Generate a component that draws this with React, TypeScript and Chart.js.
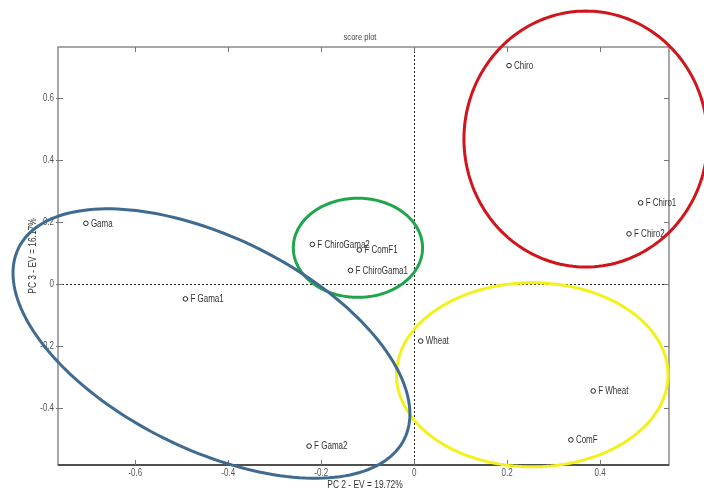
import React, { useEffect, useRef } from "react";
import { Chart, registerables } from "chart.js";

Chart.register(...registerables);

// ---- data ----
const sampleNames = [
  "Chiro", "F Chiro1", "F Chiro2", "Gama", "F Gama1", "F Gama2",
  "F ChiroGama2", "F ComF1", "F ChiroGama1", "Wheat", "F Wheat", "ComF",
];
const pc2Scores = [0.204, 0.487, 0.462, -0.706, -0.492, -0.226, -0.219, -0.118, -0.137, 0.014, 0.385, 0.337];
const pc3Scores = [0.706, 0.263, 0.163, 0.197, -0.047, -0.522, 0.129, 0.111, 0.045, -0.183, -0.344, -0.502];

const xTickValues = [-0.6, -0.4, -0.2, 0, 0.2, 0.4];
const xTickLabels = ["-0.6", "-0.4", "-0.2", "0", "0.2", "0.4"];
const yTickValues = [-0.4, -0.2, 0, 0.2, 0.4, 0.6];
const yTickLabels = ["-0.4", "-0.2", "0", "0.2", "0.4", "0.6"];

const xRange = [-0.766, 0.548];
const yRange = [-0.583, 0.766];

const titleText = "score plot";
const xTitle = "PC 2 - EV = 19.72%";
const yTitle = "PC 3 - EV = 16.17%";

// cluster ellipses: centre (data units) and two conjugate half-axis vectors (data units)
const ellipseColors = ["#d0151c", "#1fa64c", "#f3f01c", "#3f6b91"];
const ellipseCenters = [[0.369, 0.469], [-0.121, 0.118], [0.254, -0.292], [-0.436, -0.191]];
const ellipseAxisU = [[0.262, 0], [0.139, 0], [0.292, 0], [0.4146, -0.3087]];
const ellipseAxisV = [[0, 0.413], [0, 0.16], [0, 0.297], [-0.1013, -0.3061]];

const FONT = "'Liberation Sans', Arial, sans-serif";
const SQUEEZE = 0.8;

function narrowText(ctx: any, text: string, x: number, y: number, align: string, size: number, color: string, rotate = false) {
  ctx.save();
  ctx.translate(x, y);
  if (rotate) ctx.rotate(-Math.PI / 2);
  ctx.scale(SQUEEZE, 1);
  ctx.font = `${size}px ${FONT}`;
  ctx.fillStyle = color;
  ctx.textAlign = align;
  ctx.textBaseline = "middle";
  ctx.fillText(text, 0, 0);
  ctx.restore();
}

const decorPlugin = {
  id: "decor",
  beforeDatasetsDraw(chart: any) {
    const { ctx, chartArea, scales } = chart;
    const xs = scales.x, ys = scales.y;
    ctx.save();
    // zero lines
    ctx.strokeStyle = "#222";
    ctx.lineWidth = 1;
    ctx.setLineDash([2, 2]);
    const x0 = Math.round(xs.getPixelForValue(0)) + 0.5;
    const y0 = Math.round(ys.getPixelForValue(0)) + 0.5;
    ctx.beginPath();
    ctx.moveTo(x0, chartArea.top);
    ctx.lineTo(x0, chartArea.bottom);
    ctx.moveTo(chartArea.left, y0);
    ctx.lineTo(chartArea.right, y0);
    ctx.stroke();
    ctx.setLineDash([]);
    // frame
    ctx.strokeStyle = "#8a8a8a";
    ctx.lineWidth = 1.5;
    ctx.strokeRect(chartArea.left, chartArea.top, chartArea.right - chartArea.left, chartArea.bottom - chartArea.top);
    ctx.strokeStyle = "#333";
    ctx.beginPath();
    ctx.moveTo(chartArea.left, chartArea.bottom);
    ctx.lineTo(chartArea.right, chartArea.bottom);
    ctx.stroke();
    // inward ticks
    ctx.strokeStyle = "#777";
    ctx.lineWidth = 1;
    const tl = 5;
    xTickValues.forEach((v) => {
      const px = Math.round(xs.getPixelForValue(v)) + 0.5;
      ctx.beginPath();
      ctx.moveTo(px, chartArea.bottom);
      ctx.lineTo(px, chartArea.bottom - tl);
      ctx.moveTo(px, chartArea.top);
      ctx.lineTo(px, chartArea.top + tl);
      ctx.stroke();
    });
    yTickValues.forEach((v) => {
      const py = Math.round(ys.getPixelForValue(v)) + 0.5;
      ctx.beginPath();
      ctx.moveTo(chartArea.left - 2, py);
      ctx.lineTo(chartArea.left + tl, py);
      ctx.moveTo(chartArea.right, py);
      ctx.lineTo(chartArea.right - tl, py);
      ctx.stroke();
    });
    ctx.restore();

    // tick labels
    xTickValues.forEach((v, i) => {
      narrowText(ctx, xTickLabels[i], xs.getPixelForValue(v), chartArea.bottom + 8, "center", 10, "#555");
    });
    yTickValues.forEach((v, i) => {
      narrowText(ctx, yTickLabels[i], chartArea.left - 4, ys.getPixelForValue(v), "right", 10, "#555");
    });
    // titles
    narrowText(ctx, titleText, 360, 37, "center", 9.5, "#444");
    narrowText(ctx, xTitle, 365, 485, "center", 10.5, "#333");
    narrowText(ctx, yTitle, 33, 256, "center", 10.5, "#333", true);
  },
  afterDatasetsDraw(chart: any) {
    const { ctx, scales } = chart;
    const xs = scales.x, ys = scales.y;
    // point labels
    sampleNames.forEach((name, i) => {
      const px = xs.getPixelForValue(pc2Scores[i]);
      const py = ys.getPixelForValue(pc3Scores[i]);
      narrowText(ctx, name, px + 5, py + 0.5, "left", 10, "#333");
    });
    // ellipses
    ctx.save();
    ctx.lineWidth = 3;
    ellipseCenters.forEach((c, k) => {
      ctx.strokeStyle = ellipseColors[k];
      ctx.beginPath();
      const n = 180;
      for (let j = 0; j <= n; j++) {
        const t = (j / n) * Math.PI * 2;
        const dx = c[0] + ellipseAxisU[k][0] * Math.cos(t) + ellipseAxisV[k][0] * Math.sin(t);
        const dy = c[1] + ellipseAxisU[k][1] * Math.cos(t) + ellipseAxisV[k][1] * Math.sin(t);
        const px = xs.getPixelForValue(dx);
        const py = ys.getPixelForValue(dy);
        if (j === 0) ctx.moveTo(px, py);
        else ctx.lineTo(px, py);
      }
      ctx.closePath();
      ctx.stroke();
    });
    ctx.restore();
  },
};

export default function App() {
  const canvasRef = useRef<HTMLCanvasElement | null>(null);

  useEffect(() => {
    if (!canvasRef.current) return;
    const points = pc2Scores.map((x, i) => ({ x, y: pc3Scores[i] }));
    const chart = new Chart(canvasRef.current, {
      type: "scatter",
      data: {
        datasets: [
          {
            data: points,
            pointStyle: "circle",
            pointRadius: 2.3,
            pointBorderWidth: 1,
            pointBorderColor: "#222",
            pointBackgroundColor: "#fff",
          } as any,
        ],
      },
      options: {
        animation: false,
        responsive: true,
        maintainAspectRatio: false,
        layout: { padding: { left: 0, right: 35, top: 47, bottom: 0 } },
        plugins: {
          legend: { display: false },
          tooltip: { enabled: false },
          title: { display: false },
        },
        scales: {
          x: {
            type: "linear",
            min: xRange[0],
            max: xRange[1],
            afterBuildTicks: (s: any) => {
              s.ticks = xTickValues.map((v) => ({ value: v }));
            },
            afterFit: (s: any) => {
              s.height = 26;
            },
            grid: { display: false, drawTicks: false },
            border: { display: false },
            ticks: { display: false },
          },
          y: {
            type: "linear",
            min: yRange[0],
            max: yRange[1],
            afterBuildTicks: (s: any) => {
              s.ticks = yTickValues.map((v) => ({ value: v }));
            },
            afterFit: (s: any) => {
              s.width = 58;
            },
            grid: { display: false, drawTicks: false },
            border: { display: false },
            ticks: { display: false },
          },
        },
      },
      plugins: [decorPlugin],
    });
    return () => chart.destroy();
  }, []);

  return (
    <div style={{ position: "fixed", left: 0, top: 0, width: 704, height: 491, background: "#fff" }}>
      <canvas ref={canvasRef} />
    </div>
  );
}
